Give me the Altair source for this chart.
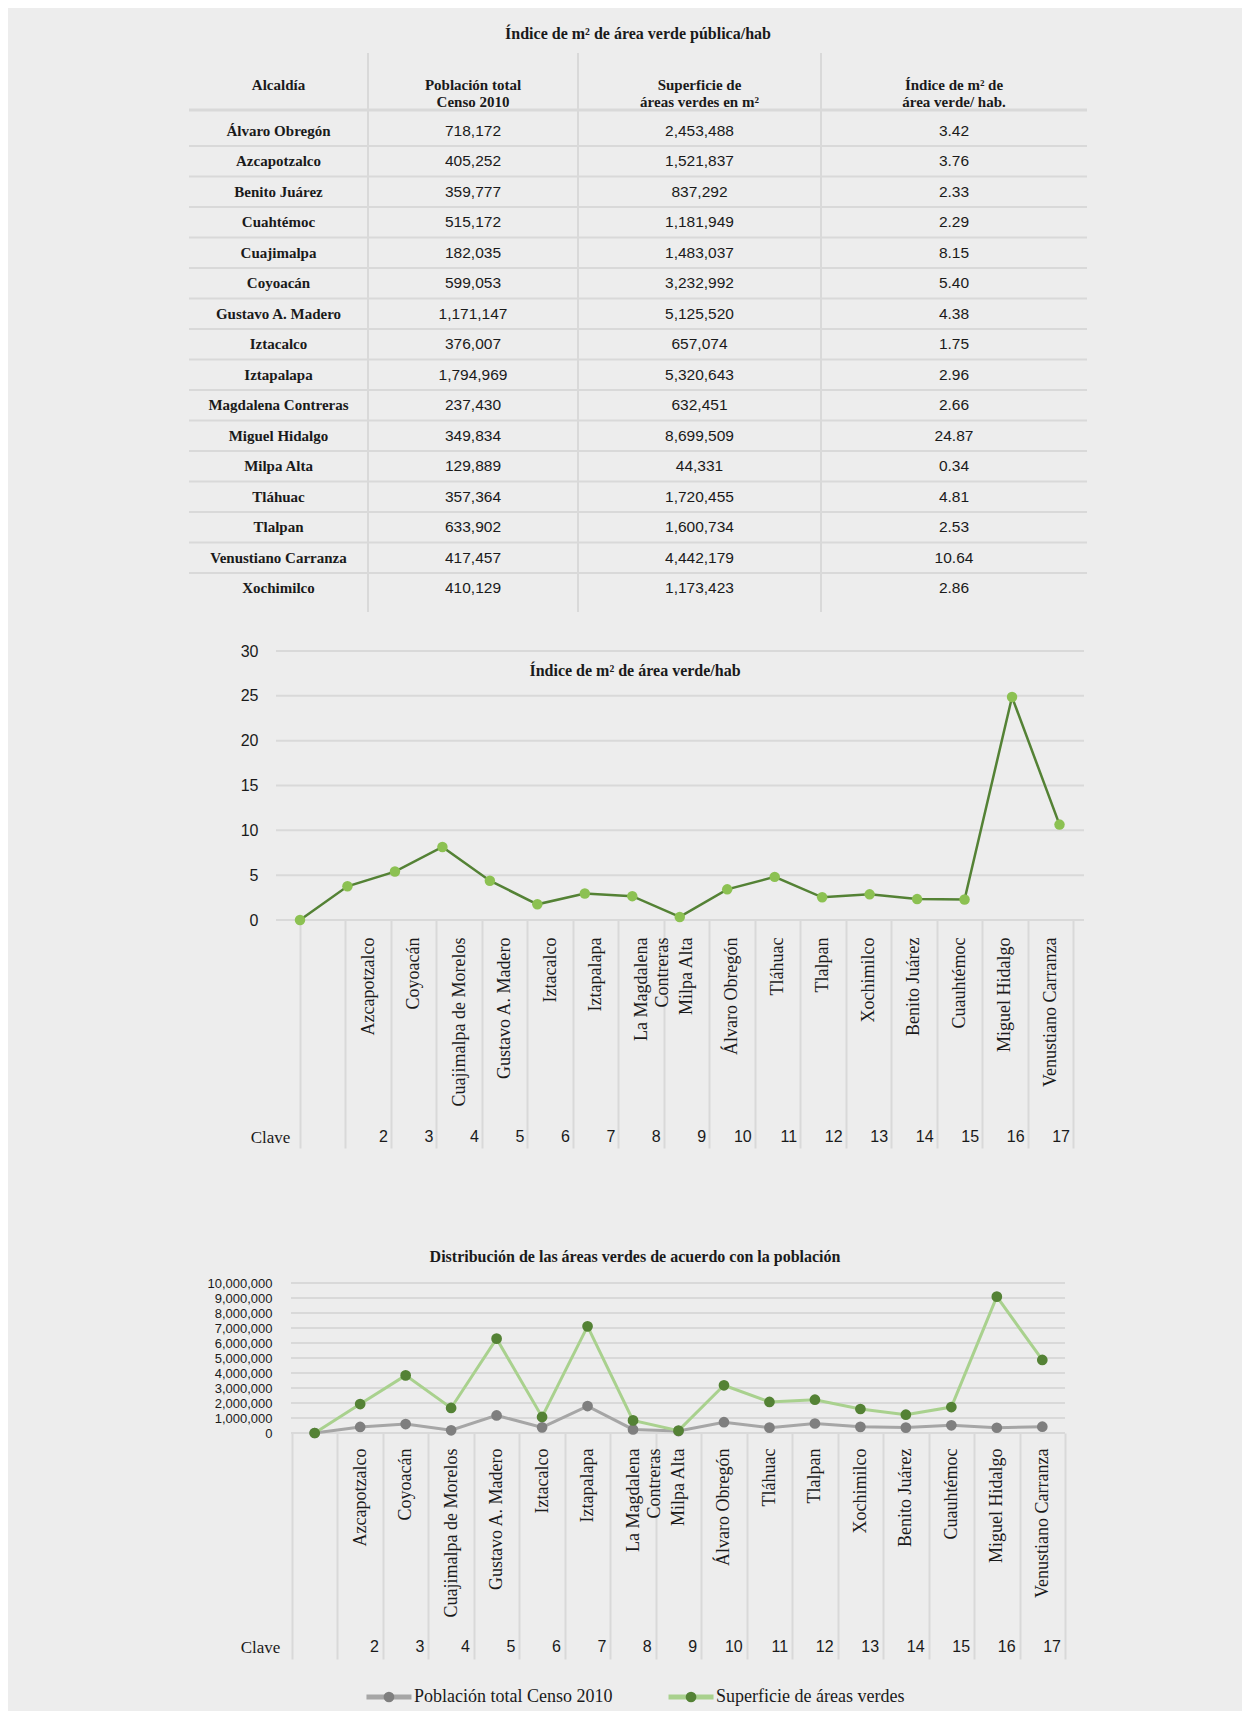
import altair as alt
import pandas as pd

# ---------------- data ----------------
TABLE_TITLE = "Índice de m² de área verde pública/hab"
HEADERS = ["Alcaldía", "Población total\nCenso 2010",
           "Superficie de\náreas verdes en m²", "Índice de m² de\nárea verde/ hab."]
ALCALDIAS = ["Álvaro Obregón", "Azcapotzalco", "Benito Juárez", "Cuahtémoc", "Cuajimalpa",
             "Coyoacán", "Gustavo A. Madero", "Iztacalco", "Iztapalapa", "Magdalena Contreras",
             "Miguel Hidalgo", "Milpa Alta", "Tláhuac", "Tlalpan", "Venustiano Carranza", "Xochimilco"]
POBLACION = [718172, 405252, 359777, 515172, 182035, 599053, 1171147, 376007, 1794969, 237430,
             349834, 129889, 357364, 633902, 417457, 410129]
SUPERFICIE = [2453488, 1521837, 837292, 1181949, 1483037, 3232992, 5125520, 657074, 5320643, 632451,
              8699509, 44331, 1720455, 1600734, 4442179, 1173423]
INDICE = [3.42, 3.76, 2.33, 2.29, 8.15, 5.40, 4.38, 1.75, 2.96, 2.66, 24.87, 0.34, 4.81, 2.53, 10.64, 2.86]

CHART1_TITLE = "Índice de m² de área verde/hab"
CHART2_TITLE = "Distribución de las áreas verdes de acuerdo con la población"
CHART_LABELS = [" ", "Azcapotzalco", "Coyoacán", "Cuajimalpa de Morelos", "Gustavo A. Madero",
                "Iztacalco", "Iztapalapa", "La Magdalena|Contreras", "Milpa Alta", "Álvaro Obregón",
                "Tláhuac", "Tlalpan", "Xochimilco", "Benito Juárez", "Cuauhtémoc", "Miguel Hidalgo",
                "Venustiano Carranza"]
CLAVES = ["", "2", "3", "4", "5", "6", "7", "8", "9", "10", "11", "12", "13", "14", "15", "16", "17"]
INDICE_CHART = [0, 3.76, 5.40, 8.15, 4.38, 1.75, 2.96, 2.66, 0.34, 3.42, 4.81, 2.53, 2.86, 2.33, 2.29,
                24.87, 10.64]
Y1_TICKS = [0, 5, 10, 15, 20, 25, 30]

SERIES = ["Población total Censo 2010", "Superficie de áreas verdes"]
POB_CHART = [0, 405252, 599053, 182035, 1171147, 376007, 1794969, 237430, 129889, 718172, 357364,
             633902, 410129, 359777, 515172, 349834, 417457]
SUP_CHART = [0, 1930000, 3840000, 1670000, 6290000, 1070000, 7110000, 840000, 160000, 3180000,
             2070000, 2220000, 1600000, 1220000, 1730000, 9090000, 4870000]
Y2_TICKS = [0, 1000000, 2000000, 3000000, 4000000, 5000000, 6000000, 7000000, 8000000, 9000000, 10000000]

# ---------------- style / layout ----------------
SERIF = "Liberation Serif"
SANS = "Liberation Sans"
INK = "#1a1a1a"
GRID = "#d9d9d9"
BG = "#ededed"
LINE1 = "#548235"
DOT1 = "#8cc152"
LINE_COLORS = ["#a6a6a6", "#a9d18e"]
DOT_COLORS = ["#7f7f7f", "#548235"]

COL_WIDTHS = [179, 210, 243, 266]
HEADER_H = 57
BODY_H = 502
ROW_PX = 30.5      # row pitch in pixels
ROW_SHIFT = 0.18   # gap under the header line, in row units

# ---------------- table (one layered chart) ----------------
TABLE_W = sum(COL_WIDTHS)
TABLE_H = HEADER_H + BODY_H
EDGES = [sum(COL_WIDTHS[:i]) for i in range(len(COL_WIDTHS) + 1)]
CENTERS = [(EDGES[i] + EDGES[i + 1]) / 2 for i in range(len(COL_WIDTHS))]
cells = [ALCALDIAS,
         [f"{v:,}" for v in POBLACION],
         [f"{v:,}" for v in SUPERFICIE],
         [f"{v:.2f}" for v in INDICE]]
n_rows = len(ALCALDIAS)

body_rows = []
for c, col in enumerate(cells):
    for r, t in enumerate(col):
        body_rows.append({"col": c, "x": CENTERS[c], "y": r + ROW_SHIFT + 0.5, "t": t})
body_df = pd.DataFrame(body_rows)
line_df = pd.DataFrame({"y": [r + 1 + ROW_SHIFT for r in range(n_rows - 1)]})
sep_df = pd.DataFrame({"x": EDGES[1:-1]})
head_df = pd.DataFrame({"x": CENTERS, "h": HEADERS})

xs_t = alt.Scale(domain=[0, TABLE_W], nice=False, zero=False)
ys_t = alt.Scale(domain=[-HEADER_H / ROW_PX, BODY_H / ROW_PX], reverse=True, nice=False, zero=False)

t_lines = alt.Chart(line_df).mark_rule(color=GRID, strokeWidth=2).encode(
    y=alt.Y("y:Q", scale=ys_t, axis=None), x=alt.value(0), x2=alt.value(TABLE_W))
t_headline = alt.Chart(pd.DataFrame({"y": [0]})).mark_rule(color=GRID, strokeWidth=3).encode(
    y=alt.Y("y:Q", scale=ys_t, axis=None), x=alt.value(0), x2=alt.value(TABLE_W))
t_seps = alt.Chart(sep_df).mark_rule(color=GRID, strokeWidth=2).encode(
    x=alt.X("x:Q", scale=xs_t, axis=None), y=alt.value(0), y2=alt.value(TABLE_H))
t_head = alt.Chart(head_df).mark_text(
    font=SERIF, fontSize=15, fontWeight="bold", color=INK, lineBreak="\n",
    lineHeight=17, baseline="middle", align="center"
).encode(x=alt.X("x:Q", scale=xs_t, axis=None), y=alt.value(32), text="h:N")
t_names = alt.Chart(body_df).transform_filter(alt.datum.col == 0).mark_text(
    font=SERIF, fontSize=15, fontWeight="bold", color=INK, baseline="middle", align="center"
).encode(x=alt.X("x:Q", scale=xs_t, axis=None), y=alt.Y("y:Q", scale=ys_t, axis=None), text="t:N")
t_nums = alt.Chart(body_df).transform_filter(alt.datum.col > 0).mark_text(
    font=SANS, fontSize=15.5, color=INK, baseline="middle", align="center"
).encode(x=alt.X("x:Q", scale=xs_t, axis=None), y=alt.Y("y:Q", scale=ys_t, axis=None), text="t:N")

table = alt.layer(t_lines, t_headline, t_seps, t_head, t_names, t_nums).properties(
    width=TABLE_W, height=TABLE_H,
    title=alt.TitleParams(TABLE_TITLE, font=SERIF, fontSize=16, fontWeight="bold", color=INK,
                          anchor="middle", offset=10),
)


# ---------------- helpers ----------------
def label_axis(tick_len, label_top, title_x, title_y):
    return alt.Axis(
        orient="bottom", labelAngle=270, labelAlign="right", labelBaseline="middle",
        labelPadding=label_top - tick_len, labelFont=SERIF, labelFontSize=18, labelColor=INK,
        labelExpr="split(datum.label, '|')", labelLineHeight=21, labelLimit=300,
        labelOverlap=False, tickBand="extent", tickSize=tick_len, tickColor=GRID, tickWidth=2,
        domain=False, grid=False, title="Clave", titleX=title_x, titleY=title_y,
        titleAlign="center", titleBaseline="middle", titleAngle=0, titleFont=SERIF,
        titleFontSize=17, titleFontWeight="normal", titleColor=INK,
    )


def value_axis(values, pad, size, fmt):
    return alt.Axis(values=values, format=fmt, grid=False, domain=False, ticks=False,
                    labelFont=SANS, labelFontSize=size, labelColor=INK, labelAlign="right",
                    labelBaseline="middle", labelPadding=pad, labelOverlap=False,
                    labelFlush=False, minExtent=0, maxExtent=0, title=None)


# ---------------- chart 1 ----------------
W1, H1 = 895, 269
GRID1_START = 87
CELLS1 = [111, 884]      # pixel span of the 17 label cells
POINTS1 = [111, 870.5]   # pixel span of the 17 data points
df1 = pd.DataFrame({"lab": CHART_LABELS, "clave": CLAVES, "v": INDICE_CHART})
x1 = alt.X("lab:N", sort=CHART_LABELS,
           scale=alt.Scale(type="point", padding=0, range=POINTS1), axis=None)
ysc1 = alt.Scale(domain=[0, 30], nice=False)
axis1 = value_axis(Y1_TICKS, -69, 16, "d")
grid1 = alt.Chart(pd.DataFrame({"t": Y1_TICKS})).mark_rule(color=GRID, strokeWidth=2).encode(
    y=alt.Y("t:Q", scale=ysc1, axis=axis1),
    x=alt.value(GRID1_START), x2=alt.value(W1))
line1 = alt.Chart(df1).mark_line(color=LINE1, strokeWidth=2.5).encode(
    x=x1, y=alt.Y("v:Q", scale=ysc1, axis=axis1))
pts1 = alt.Chart(df1).mark_circle(color=DOT1, size=110, opacity=1).encode(
    x=x1, y=alt.Y("v:Q", scale=ysc1, axis=axis1))
clave1 = alt.Chart(df1).mark_text(font=SANS, fontSize=16, color=INK, align="right",
                                  baseline="middle", dx=-3).encode(
    x=alt.X("lab:N", sort=CHART_LABELS, bandPosition=1,
            scale=alt.Scale(type="band", paddingInner=0, paddingOuter=0, range=CELLS1),
            axis=label_axis(228, 17, 81, 217)),
    y=alt.value(H1 + 217),
    text="clave:N",
)
title1 = alt.Chart(pd.DataFrame({"t": [CHART1_TITLE]})).mark_text(
    font=SERIF, fontSize=16, fontWeight="bold", color=INK, align="center", baseline="middle"
).encode(text="t:N", x=alt.value(446), y=alt.value(20))
chart1 = alt.layer(alt.layer(grid1, line1, pts1), clave1, title1).resolve_scale(
    x="independent").properties(width=W1, height=H1)

# ---------------- chart 2 ----------------
W2, H2 = 876, 150
GRID2_START = 102
CELLS2 = [103, 876]
POINTS2 = [125.7, 853.3]
df2 = pd.DataFrame({"lab": CHART_LABELS * 2,
                    "serie": [SERIES[0]] * len(CHART_LABELS) + [SERIES[1]] * len(CHART_LABELS),
                    "v": POB_CHART + SUP_CHART})
x2 = alt.X("lab:N", sort=CHART_LABELS,
           scale=alt.Scale(type="point", padding=0, range=POINTS2), axis=None)
ysc2 = alt.Scale(domain=[0, 10000000], nice=False)
axis2 = value_axis(Y2_TICKS, -83, 13, ",d")
grid2 = alt.Chart(pd.DataFrame({"t": Y2_TICKS})).mark_rule(color=GRID, strokeWidth=2).encode(
    y=alt.Y("t:Q", scale=ysc2, axis=axis2),
    x=alt.value(GRID2_START), x2=alt.value(W2))
series_layers = [grid2]
for s, lc, dc in zip(SERIES, LINE_COLORS, DOT_COLORS):
    base = alt.Chart(df2).transform_filter(alt.datum.serie == s)
    series_layers.append(base.mark_line(color=lc, strokeWidth=3).encode(
        x=x2, y=alt.Y("v:Q", scale=ysc2, axis=axis2)))
    series_layers.append(base.mark_circle(color=dc, size=115, opacity=1).encode(
        x=x2, y=alt.Y("v:Q", scale=ysc2, axis=axis2)))
clave2 = alt.Chart(df1).mark_text(font=SANS, fontSize=16, color=INK, align="right",
                                  baseline="middle", dx=-4).encode(
    x=alt.X("lab:N", sort=CHART_LABELS, bandPosition=1,
            scale=alt.Scale(type="band", paddingInner=0, paddingOuter=0, range=CELLS2),
            axis=label_axis(226, 15, 71, 214)),
    y=alt.value(H2 + 214),
    text="clave:N",
)
chart2 = alt.layer(alt.layer(*series_layers), clave2).resolve_scale(x="independent").properties(
    width=W2, height=H2,
    title=alt.TitleParams(CHART2_TITLE, font=SERIF, fontSize=16, fontWeight="bold", color=INK,
                          anchor="middle", offset=12, dx=8),
)

# ---------------- legend ----------------
dfl = pd.DataFrame({"serie": SERIES})
xl = alt.X("serie:N", sort=SERIES, scale=alt.Scale(type="point", padding=0.662), axis=None)
leg_line = alt.Chart(dfl).mark_point(shape="stroke", size=2025, strokeWidth=5, filled=False,
                                     opacity=1).encode(
    x=xl, color=alt.Color("serie:N", scale=alt.Scale(domain=SERIES, range=LINE_COLORS), legend=None))
leg_dot = alt.Chart(dfl).mark_circle(size=115, opacity=1).encode(
    x=xl, fill=alt.Fill("serie:N", scale=alt.Scale(domain=SERIES, range=DOT_COLORS), legend=None))
leg_txt = alt.Chart(dfl).mark_text(font=SERIF, fontSize=18, color=INK, align="left",
                                   baseline="middle", dx=25).encode(x=xl, text="serie:N")
legend = alt.layer(leg_line, leg_dot, leg_txt).resolve_scale(color="independent").properties(
    width=702, height=20)

# ---------------- assemble ----------------
upper = alt.vconcat(table, chart1, spacing=30)
lower = alt.vconcat(chart2, legend, spacing=27)
chart = alt.vconcat(upper, lower, spacing=100).properties(
    background=BG, padding={"left": 172, "top": 18, "right": 153, "bottom": 4}
).configure_view(strokeWidth=0)

chart.save("out.html", embed_options={"renderer": "svg", "actions": False})
